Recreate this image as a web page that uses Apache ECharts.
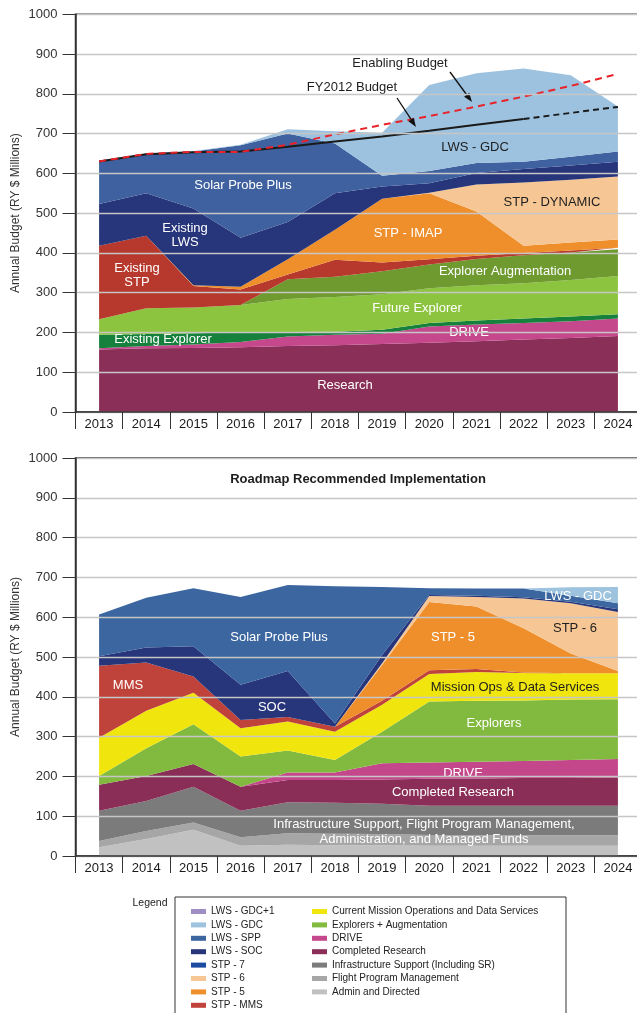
<!DOCTYPE html>
<html>
<head>
<meta charset="utf-8">
<script src="https://cdn.jsdelivr.net/npm/echarts@6/dist/echarts.min.js"></script>
<style>
  html, body { margin: 0; padding: 0; background: #fff; }
  #chart { width: 637px; height: 1013px; }
</style>
</head>
<body>
<div id="chart"></div>
<script>
const years = ['2013', '2014', '2015', '2016', '2017', '2018', '2019', '2020', '2021', '2022', '2023', '2024'];
const yTicks = [0, 1000, 100];

// top chart (current plan), band thickness per year, bottom to top
const research = [157, 160, 161, 163, 166, 168, 171, 174, 178, 182, 186, 191];
const driveTop = [3, 6, 9, 13, 24, 26, 26, 41, 42, 42, 42, 44];
const existingExplorer = [34, 30, 28, 24, 11, 8, 10, 9, 10, 11, 12, 11];
const futureExplorer = [39, 65, 65, 69, 83, 87, 89, 87, 89, 89, 92, 96];
const explorerAug = [0, 0, 0, 0, 50, 51, 58, 60, 66, 70, 69, 67];
const existingStp = [185, 182, 54, 39, 12, 43, 22, 13, 8, 6, 5, 4];
const stpImap = [0, 0, 2, 7, 38, 75, 160, 166, 111, 18, 20, 21];
const stpDynamic = [0, 0, 0, 0, 0, 0, 0, 1, 68, 159, 158, 158];
const existingLws = [105, 107, 193, 123, 94, 92, 31, 24, 29, 34, 36, 37];
const solarProbeTop = [109, 100, 143, 233, 222, 125, 27, 31, 25, 18, 22, 26];
const gdcTop = [0, 0, 1, 1, 11, 31, 108, 216, 226, 235, 205, 113];
const fy2012Budget = [630, 648, 653, 655, 667, 680, 693, 707, 722, 737, null, null];
const fy2012Outyears = [null, null, null, null, null, null, null, null, null, 737, 752, 767];
const enablingBudget = [630, 649, 654, 654, 672, 698, 722, 744, 768, 793, 820, 850];

// bottom chart (roadmap recommended), band thickness per year, bottom to top
const adminDirected = [22, 43, 66, 26, 28, 27, 27, 26, 26, 26, 26, 26];
const flightPm = [16, 20, 18, 21, 29, 29, 28, 27, 26, 26, 26, 26];
const infraSupport = [76, 75, 90, 67, 78, 78, 76, 73, 74, 74, 74, 74];
const completedResearch = [65, 63, 57, 60, 56, 57, 61, 68, 69, 70, 70, 71];
const driveBottom = [0, 0, 0, 0, 19, 19, 41, 41, 42, 43, 45, 47];
const explorers = [22, 70, 100, 76, 55, 31, 79, 153, 153, 152, 152, 150];
const missionOps = [96, 94, 79, 71, 73, 71, 68, 69, 72, 69, 66, 65];
const stpMms = [181, 121, 41, 21, 11, 13, 10, 10, 8, 1, 0, 0];
const stp5 = [0, 0, 0, 0, 0, 0, 90, 171, 157, 111, 50, 6];
const stp6 = [0, 0, 0, 0, 0, 0, 4, 15, 24, 75, 126, 148];
const lwsSoc = [24, 38, 76, 88, 116, 8, 21, 3, 3, 3, 4, 7];
const lwsSpp = [105, 125, 146, 221, 216, 345, 171, 17, 18, 22, 15, 15];
const lwsGdc = [0, 0, 0, 0, 0, 0, 0, 0, 0, 0, 21, 41];

const legendLeft = ['LWS - GDC+1', 'LWS - GDC', 'LWS - SPP', 'LWS - SOC', 'STP - 7', 'STP - 6', 'STP - 5', 'STP - MMS'];
const legendRight = ['Current Mission Operations and Data Services', 'Explorers + Augmentation', 'DRIVE',
  'Completed Research', 'Infrastructure Support (Including SR)', 'Flight Program Management', 'Admin and Directed'];

const FONT = 'Liberation Sans, Arial, Helvetica, sans-serif';

const chart = echarts.init(document.getElementById('chart'));

function band(name, data, color, g) {
  return {
    name: name,
    type: 'line',
    stack: 'stack' + g,
    xAxisIndex: g,
    yAxisIndex: g,
    data: data,
    symbol: 'none',
    silent: true,
    lineStyle: { width: 0, color: color },
    itemStyle: { color: color },
    areaStyle: { color: color, opacity: 1 }
  };
}

function budgetLine(name, data, color, type, z) {
  return {
    name: name,
    type: 'line',
    xAxisIndex: 0,
    yAxisIndex: 0,
    data: data,
    symbol: 'none',
    silent: true,
    z: z,
    lineStyle: { width: 2, color: color, type: type }
  };
}

function xAxisFor(g) {
  return {
    type: 'category',
    gridIndex: g,
    data: years,
    boundaryGap: true,
    z: 12,
    axisLine: { lineStyle: { color: '#333', width: 1.5 } },
    axisTick: { show: true, length: 17, lineStyle: { color: '#333', width: 1 } },
    axisLabel: { fontSize: 13, color: '#1a1a1a', margin: 6, fontFamily: FONT }
  };
}

function yAxisFor(g) {
  return {
    type: 'value',
    gridIndex: g,
    min: yTicks[0],
    max: yTicks[1],
    interval: yTicks[2],
    z: 12,
    name: 'Annual Budget (RY $ Millions)',
    nameLocation: 'middle',
    nameRotate: 90,
    nameGap: 54,
    nameMoveOverlap: false,
    nameTextStyle: { fontSize: 12, color: '#333', fontFamily: FONT },
    axisLine: { show: true, lineStyle: { color: '#333', width: 1.5 } },
    axisTick: { show: true, length: 13, lineStyle: { color: '#333' } },
    axisLabel: { fontSize: 13, color: '#333', margin: 18, fontFamily: FONT,
      formatter: function (v) { return String(v); } },
    splitLine: { lineStyle: { color: '#c6c6c6', width: 1.3 } }
  };
}

function label(text, x, y, fill, extra) {
  return {
    type: 'text',
    x: x,
    y: y,
    z: 10,
    silent: true,
    style: Object.assign({
      text: text,
      fill: fill,
      font: '13px ' + FONT,
      align: 'center',
      verticalAlign: 'middle',
      lineHeight: 14
    }, extra || {})
  };
}

function arrow(x1, y1, x2, y2) {
  const ang = Math.atan2(y2 - y1, x2 - x1);
  const len = 9, half = 3.2;
  const bx = x2 - len * Math.cos(ang), by = y2 - len * Math.sin(ang);
  return [
    { type: 'line', z: 10, silent: true, shape: { x1: x1, y1: y1, x2: bx, y2: by },
      style: { stroke: '#111', lineWidth: 1.3 } },
    { type: 'polygon', z: 10, silent: true,
      shape: { points: [[x2, y2],
        [bx + half * Math.sin(ang), by - half * Math.cos(ang)],
        [bx - half * Math.sin(ang), by + half * Math.cos(ang)]] },
      style: { fill: '#111' } }
  ];
}

const W = '#fff', D = '#1e1e1e';

const option = {
  animation: false,
  backgroundColor: '#fff',
  grid: [
    { left: 75.5, top: 14.3, width: 566, height: 397.7, show: true, borderColor: '#333', borderWidth: 1.5,
      outerBoundsMode: 'none', containLabel: false },
    { left: 75.5, top: 458, width: 566, height: 398, show: true, borderColor: '#333', borderWidth: 1.5,
      outerBoundsMode: 'none', containLabel: false }
  ],
  xAxis: [xAxisFor(0), xAxisFor(1)],
  yAxis: [yAxisFor(0), yAxisFor(1)],
  legend: [
    { data: legendLeft, orient: 'vertical', left: 191, top: 905.5, padding: 0, icon: 'rect',
      itemWidth: 15, itemHeight: 5, itemGap: 1.4, selectedMode: false,
      textStyle: { fontSize: 10, color: '#222', lineHeight: 12, fontFamily: FONT } },
    { data: legendRight, orient: 'vertical', left: 312, top: 905.5, padding: 0, icon: 'rect',
      itemWidth: 15, itemHeight: 5, itemGap: 1.4, selectedMode: false,
      textStyle: { fontSize: 10, color: '#222', lineHeight: 12, fontFamily: FONT } }
  ],
  graphic: [
    // top chart labels
    label('Enabling Budget', 400, 63, D),
    label('FY2012 Budget', 352, 87, D),
    ...arrow(450, 72, 472, 102),
    ...arrow(397, 98, 416, 127),
    label('LWS - GDC', 475, 147, D),
    label('Solar Probe Plus', 243, 185, W),
    label('Existing\nLWS', 185, 235, W),
    label('Existing\nSTP', 137, 275, W),
    label('STP - DYNAMIC', 552, 202, D),
    label('STP - IMAP', 408, 233, W),
    label('Explorer Augmentation', 505, 271, W),
    label('Future Explorer', 417, 308, W),
    label('DRIVE', 469, 332, W),
    label('Existing Explorer', 163, 339, W),
    label('Research', 345, 385, W),
    // bottom chart labels
    label('Roadmap Recommended Implementation', 358, 479, D, { font: 'bold 13px ' + FONT }),
    label('LWS - GDC', 578, 596, W),
    label('STP - 6', 575, 628, D),
    label('Solar Probe Plus', 279, 637, W),
    label('STP - 5', 453, 637, W),
    label('MMS', 128, 685, W),
    label('Mission Ops & Data Services', 515, 687, D),
    label('SOC', 272, 707, W),
    label('Explorers', 494, 723, W),
    label('DRIVE', 463, 773, W),
    label('Completed Research', 453, 792, W),
    label('Infrastructure Support, Flight Program Management,\nAdministration, and Managed Funds', 424, 831.5, W,
      { lineHeight: 15 }),
    // legend frame
    label('Legend', 150, 903, '#222', { font: '10.5px ' + FONT }),
    { type: 'rect', z: 10, silent: true, shape: { x: 175, y: 897, width: 391, height: 140 },
      style: { fill: 'none', stroke: '#333', lineWidth: 1 } }
  ],
  series: [
    band('Research', research, '#8A2F57', 0),
    band('DRIVE', driveTop, '#C5488D', 0),
    band('Existing Explorer', existingExplorer, '#16803D', 0),
    band('Future Explorer', futureExplorer, '#8DC43F', 0),
    band('Explorer Augmentation', explorerAug, '#6E9A30', 0),
    band('Existing STP', existingStp, '#B7382C', 0),
    band('STP - IMAP', stpImap, '#EE8F2B', 0),
    band('STP - DYNAMIC', stpDynamic, '#F6C794', 0),
    band('Existing LWS', existingLws, '#27357A', 0),
    band('Solar Probe Plus', solarProbeTop, '#3F619F', 0),
    band('LWS - GDC (plan)', gdcTop, '#9DC2DF', 0),
    budgetLine('FY2012 Budget', fy2012Budget, '#1a1a1a', 'solid', 5),
    budgetLine('FY2012 Budget (out-years)', fy2012Outyears, '#1a1a1a', [6, 4], 5),
    budgetLine('Enabling Budget', enablingBudget, '#E8232A', [7, 5], 6),

    band('Admin and Directed', adminDirected, '#C1C1C1', 1),
    band('Flight Program Management', flightPm, '#A6A6A6', 1),
    band('Infrastructure Support (Including SR)', infraSupport, '#7B7B7B', 1),
    band('Completed Research', completedResearch, '#8A2D57', 1),
    band('DRIVE', driveBottom, '#C4478B', 1),
    band('Explorers + Augmentation', explorers, '#82BA3F', 1),
    band('Current Mission Operations and Data Services', missionOps, '#F0E60E', 1),
    band('STP - MMS', stpMms, '#BF433A', 1),
    band('STP - 5', stp5, '#EE8F2C', 1),
    band('STP - 6', stp6, '#F6C795', 1),
    band('LWS - SOC', lwsSoc, '#27357A', 1),
    band('LWS - SPP', lwsSpp, '#3B66A0', 1),
    band('LWS - GDC', lwsGdc, '#9DC3DF', 1),
    band('LWS - GDC+1', [], '#9F8DC5', 1),
    band('STP - 7', [], '#1B4BA0', 1)
  ]
};

chart.setOption(option);
</script>
</body>
</html>
